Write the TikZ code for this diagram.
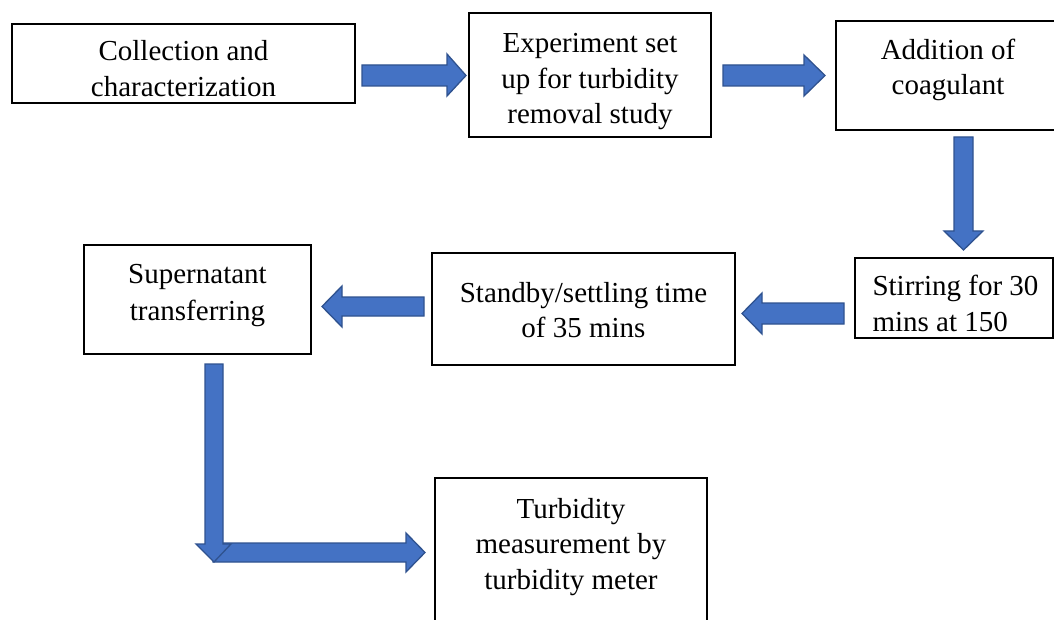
\documentclass[tikz,border=0pt]{standalone}
\usepackage{fontspec}
\setmainfont{Liberation Serif}
\definecolor{arrowfill}{HTML}{4472C4}
\definecolor{arrowedge}{HTML}{2F528F}
\begin{document}
\begin{tikzpicture}[x=1pt,y=-1pt,
  box/.style={draw=black, line width=1.4pt, rectangle, inner sep=0pt},
  txt/.style={font=\fontsize{29}{35.5}\selectfont, align=center, inner sep=0pt},
  barrow/.style={fill=arrowfill, draw=arrowedge, line width=1.3pt, line join=miter}]
\clip (0,0) rectangle (1054,620);
% boxes
\node[box, minimum width=343pt, minimum height=79pt,
  label={[txt, name=t1, yshift=-5pt]center:Collection and\\characterization}] (b1) at (183.5,63.5) {};
\node[box, minimum width=242pt, minimum height=124pt,
  label={[txt, name=t2, yshift=-7pt]center:Experiment set\\up for turbidity\\removal study}] (b2) at (590,75) {};
\node[box, minimum width=224pt, minimum height=109pt,
  label={[txt, name=t3, yshift=5.5pt]center:Addition of\\coagulant}] (b3) at (948,75.5) {};
\node[box, minimum width=198pt, minimum height=80pt,
  label={[txt, align=left, name=t4, yshift=-5.5pt, xshift=1.5pt]center:Stirring for 30\\mins at 150}] (b4) at (954,298) {};
\node[box, minimum width=303pt, minimum height=112pt,
  label={[txt, name=t5, yshift=-1pt]center:Standby/settling time\\of 35 mins}] (b5) at (583.5,309) {};
\node[box, minimum width=227pt, minimum height=109pt,
  label={[txt, name=t6, yshift=3.5pt, font=\fontsize{29}{37}\selectfont]center:Supernatant\\transferring}] (b6) at (197.5,299.5) {};
\node[box, minimum width=272pt, minimum height=152pt,
  label={[txt, name=t7, yshift=7pt]center:Turbidity\\measurement by\\turbidity meter}] (b7) at (571,554) {};
% block arrows
\draw[barrow] (362,65) -- (447,65) -- (447,54) -- (466,75.5) -- (447,96) -- (447,86) -- (362,86) -- cycle;
\draw[barrow] (723,65) -- (804,65) -- (804,55) -- (825,75.5) -- (804,96) -- (804,86) -- (723,86) -- cycle;
\draw[barrow] (954,137) -- (973,137) -- (973,231) -- (983,231) -- (963.5,250) -- (944,231) -- (954,231) -- cycle;
\draw[barrow] (844,303) -- (762,303) -- (762,293) -- (742,313.5) -- (762,334) -- (762,324) -- (844,324) -- cycle;
\draw[barrow] (424,297) -- (342,297) -- (342,286) -- (322,306.5) -- (342,327) -- (342,316) -- (424,316) -- cycle;
\draw[barrow] (213,543) -- (406,543) -- (406,533) -- (425,552.5) -- (406,572) -- (406,562) -- (213,562) -- cycle;
\draw[barrow] (205,364) -- (223,364) -- (223,544) -- (231,544) -- (214,562) -- (196,544) -- (205,544) -- cycle;
\end{tikzpicture}
\end{document}
